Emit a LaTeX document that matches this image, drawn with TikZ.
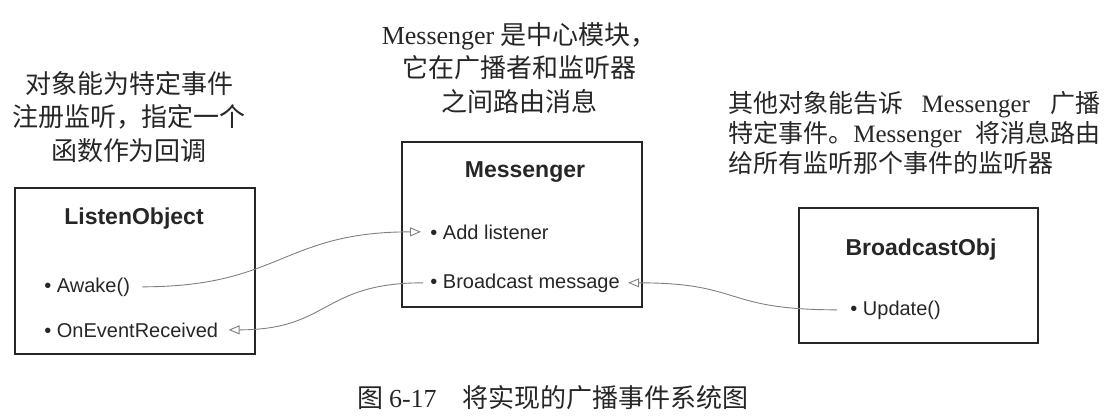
\documentclass[tikz,border=0pt]{standalone}
\usepackage{fontspec}
\setmainfont{Liberation Serif}
\newfontfamily\cjk{Noto Sans CJK SC}
\newfontfamily\boxfont{Liberation Sans}
\usetikzlibrary{arrows.meta}
\begin{document}
\begin{tikzpicture}[x=0.5pt,y=-0.5pt,
  objbox/.style={draw=black!85, line width=0.6pt, inner sep=0pt},
  boxtitle/.style={font=\boxfont\bfseries\fontsize{11.5}{13.5}\selectfont, anchor=base, inner sep=0pt, text=black!85},
  item/.style={font=\boxfont\fontsize{10}{12}\selectfont, anchor=base west, inner sep=0pt, text=black!85},
  link/.style={draw=black!50, line width=0.45pt, -{Triangle[open,length=5.5pt,width=4.5pt]}},
  note/.style={align=center, inner sep=0pt, text=black!85, font=\cjk\fontsize{13}{16.8}\selectfont}
]
\useasboundingbox (0,0) rectangle (1120,418);

% ListenObject
\node[objbox, minimum width=120pt, minimum height=83pt] (lobox) at (135,271) {};
\node[boxtitle] (lotitle) at (134,224) {ListenObject};
\node[item] (awake) at (44,292) {• Awake()};
\node[item] (oer) at (44,337) {• OnEventReceived};

% Messenger
\node[objbox, minimum width=120pt, minimum height=82.5pt] (mbox) at (522,224.5) {};
\node[boxtitle] (mtitle) at (525,177) {Messenger};
\node[item] (add) at (430,239) {• Add listener};
\node[item] (bcast) at (430,288) {• Broadcast message};

% BroadcastObj
\node[objbox, minimum width=119.5pt, minimum height=67.5pt] (bbox) at (918.5,275.5) {};
\node[boxtitle] (btitle) at (921,255) {BroadcastObj};
\node[item] (upd) at (850,315) {• Update()};

% connectors
\draw[link] ([xshift=6pt]awake.east) to[out=0,in=180,looseness=1.25] ([xshift=-4.5pt]add.west);
\draw[link] ([xshift=-3.5pt]bcast.west) to[out=180,in=0,looseness=1.3] ([xshift=5pt]oer.east);
\draw[link] ([xshift=-6.5pt]upd.west) to[out=180,in=0,looseness=1.4] ([xshift=4pt]bcast.east);

% annotations
\node[note] (lnote) at (129,117) {对象能为特定事件\\注册监听，指定一个\\函数作为回调};
\node[note] (mnote) at (519,68) {{\rmfamily Messenger} 是中心模块，\\它在广播者和监听器\\之间路由消息};
\node[anchor=west, align=left, inner sep=0pt, text=black!85, font=\fontsize{12.5}{15}\selectfont] (rnote) at (728,133)
  {\makebox[186pt][s]{\cjk 其他对象能告诉 \rmfamily Messenger \cjk 广播}\\
   \makebox[186pt][s]{\cjk 特定事件。\rmfamily Messenger \cjk 将消息路由}\\
   {\cjk 给所有监听那个事件的监听器}};

% caption
\node[inner sep=0pt, text=black!85, font=\cjk\fontsize{13}{15}\selectfont] (cap) at (553,398)
  {图 {\rmfamily 6-17}\hspace{1em}将实现的广播事件系统图};
\end{tikzpicture}
\end{document}
